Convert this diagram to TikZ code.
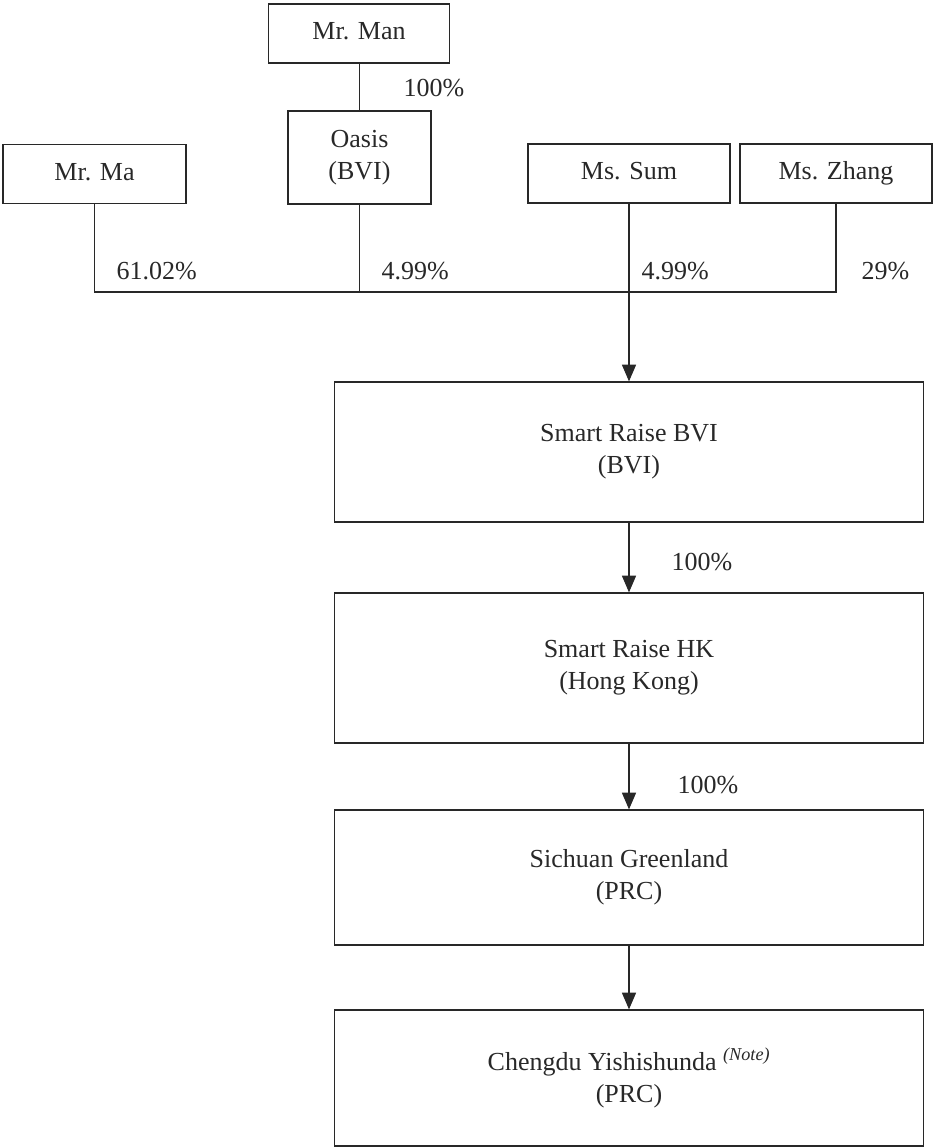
\documentclass[tikz,border=0pt]{standalone}
\usepackage{fontspec}
\setmainfont{Liberation Serif}
\usetikzlibrary{arrows.meta}
\definecolor{inkgray}{RGB}{40,40,40}
\tikzset{every picture/.style={line width=0.9pt}}

\begin{document}
\begin{tikzpicture}[x=0.75pt,y=0.75pt,yscale=-1,xscale=1,
  box/.style={draw=inkgray, inner sep=0.75pt, align=center, text=inkgray},
  person/.style={box, minimum height=44.25pt, text height=13.5pt, text depth=4pt},
  firm/.style={box, minimum width=441.75pt},
  pct/.style={anchor=west, inner sep=0.75pt, text=inkgray},
  arr/.style={draw=inkgray, -{Triangle[width=10.5pt,length=12.5pt]}},
  every node/.style={font=\fontsize{19.5}{24}\selectfont}]
\useasboundingbox (0,0) rectangle (933,1147);

% Shareholders
\node [person, minimum width=135.75pt] (man) at (359,33.5) {Mr. Man};
\node [box, minimum width=107.25pt, minimum height=69.75pt] (oasis) at (359.5,157.5) {Oasis\\(BVI)};
\node [person, minimum width=137.25pt] (ma) at (94.5,174) {Mr. Ma};
\node [person, minimum width=151.5pt] (sum) at (629,173.5) {Ms. Sum};
\node [person, minimum width=144pt] (zhang) at (836,173.5) {Ms. Zhang};

% Group companies
\node [firm, minimum height=105pt] (srbvi) at (629,452) {Smart Raise BVI\\(BVI)};
\node [firm, minimum height=112.5pt] (srhk) at (629,668) {Smart Raise HK\\(Hong Kong)};
\node [firm, minimum height=101.25pt] (sg) at (629,877.5) {Sichuan Greenland\\(PRC)};
\node [firm, minimum height=102pt] (cy) at (629,1078) {Chengdu Yishishunda \textsuperscript{\textit{(Note)}}\\(PRC)};

% Joining bar
\coordinate (barL) at (94.5,292);
\coordinate (barR) at (836,292);

%Straight Lines
\draw [inkgray] (oasis.north) -- (oasis.north |- man.south);
\draw [inkgray] (ma.south) -- (barL) -- (barR) -- (zhang.south);
\draw [inkgray] (oasis.south) -- (oasis.south |- barL);
\draw [arr] (sum.south) -- (sum.south |- srbvi.north);
\draw [arr] (srbvi.south) -- (srhk.north);
\draw [arr] (srhk.south) -- (sg.north);
\draw [arr] (sg.south) -- (cy.north);

% Text Node
\node [pct] (pman) at (402,88) {100\%};
\node [pct] (pma) at (115,271) {61.02\%};
\node [pct] (poasis) at (380,271) {4.99\%};
\node [pct] (psum) at (640,271) {4.99\%};
\node [pct] (pzhang) at (860,271) {29\%};
\node [pct] (pbvi) at (670,562) {100\%};
\node [pct] (phk) at (676,785) {100\%};

\end{tikzpicture}
\end{document}
